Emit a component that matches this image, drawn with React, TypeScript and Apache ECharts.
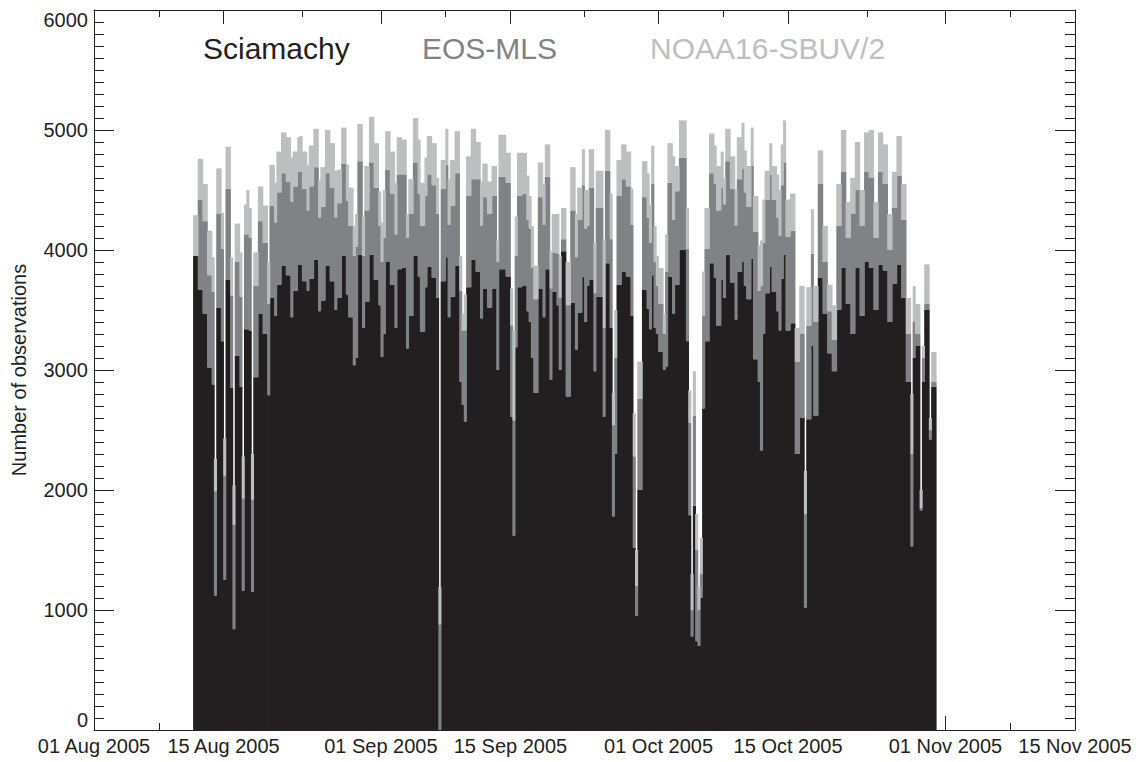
import { useEffect, useRef } from "react";
import * as echarts from "echarts";

// Observation counts per 6-hourly assimilation cycle, first cycle 11 Aug 2005 18 UTC
const FIRST_CYCLE = Date.UTC(2005, 7, 11, 18);
const CYCLE_HOURS = 6;

const sciamachy = [
  3950, 3950, 3670, 3670, 3470, 3470, 3020, 3020, 2880, 1120,
  3520, 3520, 3240, 1250, 3750, 3750, 2850, 840, 3120, 3120,
  2860, 1160, 3340, 3340, 3330, 1150, 2940, 2940, 3470, 3470,
  3300, 3300, 2790, 3600, 3600, 3450, 3710, 3710, 3870, 3870,
  3790, 3790, 3440, 3660, 3660, 3880, 3880, 3740, 3740, 3660,
  3760, 3760, 3920, 3920, 3490, 3580, 3580, 3870, 3870, 3740,
  3740, 3500, 3600, 3600, 3950, 3950, 3630, 3440, 3440, 3040,
  3100, 3960, 3960, 3350, 3570, 3570, 3960, 3960, 3750, 3750,
  3540, 3110, 3300, 3900, 3900, 3710, 3710, 3350, 3840, 3840,
  3850, 3850, 3180, 3450, 3450, 3950, 3950, 3780, 3320, 3320,
  3690, 3860, 3860, 3770, 3770, 3600, 0, 3740, 3740, 3940,
  3440, 3610, 3610, 3870, 3870, 2900, 2710, 2570, 3690, 3690,
  3920, 3920, 3820, 3820, 3430, 3680, 3680, 3520, 3520, 3680,
  3680, 3000, 3840, 3840, 3840, 3780, 3780, 2610, 1620, 3190,
  3690, 3690, 3700, 3700, 3490, 3400, 3100, 2810, 2810, 3680,
  3680, 3440, 3840, 3840, 2920, 3650, 3650, 3540, 3000, 3990,
  3990, 2780, 2780, 3560, 3560, 3170, 3480, 3480, 3780, 3400,
  3700, 3750, 3750, 2990, 3610, 3610, 3610, 2610, 3890, 3890,
  3350, 1780, 2300, 3710, 3710, 3820, 3820, 3780, 3780, 3450,
  1520, 950, 2000, 2000, 3670, 3670, 3510, 3340, 3790, 3350,
  3300, 3150, 3150, 3000, 3030, 3780, 3780, 3470, 3710, 3710,
  4000, 4000, 4000, 3240, 1790, 780, 1870, 740, 700, 1100,
  2680, 3240, 3240, 3890, 3890, 3770, 3370, 3370, 3750, 3600,
  3960, 3960, 3730, 3730, 3420, 3820, 3820, 3900, 3700, 3590,
  3590, 3930, 3090, 3090, 2900, 2330, 3300, 3640, 3640, 3860,
  3650, 3650, 3490, 3330, 3760, 3960, 3330, 3330, 3390, 3390,
  2300, 2300, 2600, 2600, 1020, 2590, 2590, 3200, 2620, 2620,
  3770, 3770, 3470, 3470, 3140, 3140, 2990, 2990, 3500, 3500,
  3850, 3850, 3550, 3550, 3300, 3300, 3850, 3850, 3450, 3450,
  3900, 3900, 3850, 3850, 3500, 3500, 3880, 3880, 3830, 3830,
  3400, 3400, 3720, 3720, 3880, 3880, 3600, 3600, 2900, 2900,
  1530, 3100, 3200, 3200, 1830, 2900, 3500, 3500, 2420, 2860, 2860,
];

const eosMls = [
  0, 0, 750, 750, 770, 770, 770, 770, 770, 870,
  780, 780, 770, 870, 760, 760, 770, 870, 780, 780,
  750, 770, 790, 790, 770, 770, 760, 760, 770, 770,
  760, 760, 760, 770, 770, 780, 770, 770, 770, 770,
  780, 780, 960, 870, 870, 770, 770, 770, 770, 670,
  770, 770, 770, 770, 780, 780, 780, 770, 770, 780,
  780, 770, 790, 790, 770, 770, 780, 760, 760, 910,
  930, 780, 780, 600, 760, 760, 770, 770, 770, 770,
  660, 790, 800, 770, 770, 760, 760, 780, 790, 790,
  780, 780, 920, 850, 850, 780, 780, 690, 880, 880,
  760, 770, 770, 770, 770, 700, 880, 770, 770, 770,
  770, 760, 760, 770, 770, 760, 620, 760, 760, 760,
  670, 670, 770, 770, 770, 760, 760, 780, 780, 770,
  770, 900, 770, 770, 770, 780, 780, 760, 960, 760,
  760, 760, 770, 770, 760, 780, 750, 780, 780, 760,
  760, 770, 770, 770, 760, 330, 330, 430, 600, 100,
  100, 760, 760, 770, 770, 770, 770, 770, 760, 780,
  500, 770, 770, 650, 740, 740, 740, 740, 770, 770,
  740, 760, 800, 740, 740, 770, 770, 750, 750, 760,
  760, 250, 760, 760, 770, 770, 760, 720, 760, 550,
  400, 400, 400, 300, 790, 780, 780, 780, 780, 780,
  770, 770, 770, 770, 770, 220, 750, 760, 300, 200,
  770, 770, 770, 750, 750, 780, 960, 960, 770, 780,
  780, 780, 780, 780, 780, 770, 770, 780, 780, 770,
  770, 770, 1060, 1060, 760, 1370, 760, 780, 780, 770,
  770, 770, 780, 790, 780, 770, 780, 780, 770, 770,
  770, 770, 700, 700, 780, 780, 780, 770, 780, 780,
  780, 780, 430, 430, 350, 350, 260, 260, 700, 700,
  800, 800, 550, 550, 1000, 1000, 650, 650, 750, 750,
  750, 750, 750, 750, 600, 600, 770, 770, 720, 720,
  600, 600, 630, 630, 740, 740, 650, 650, 400, 400,
  770, 300, 100, 100, 20, 200, 50, 50, 80, 40, 40,
];

const noaa16Sbuv2 = [
  340, 340, 340, 340, 310, 310, 370, 370, 290, 270,
  380, 380, 300, 310, 350, 350, 320, 330, 320, 320,
  370, 350, 250, 370, 250, 380, 280, 280, 290, 290,
  310, 310, 350, 340, 340, 330, 340, 340, 340, 340,
  370, 370, 370, 290, 290, 290, 300, 310, 310, 380,
  340, 340, 320, 320, 310, 330, 330, 360, 360, 370,
  370, 390, 280, 280, 300, 300, 300, 320, 320, 250,
  270, 310, 310, 330, 370, 370, 380, 380, 370, 370,
  290, 330, 400, 320, 320, 350, 350, 430, 310, 310,
  290, 290, 200, 290, 290, 370, 370, 450, 360, 360,
  320, 320, 320, 350, 350, 300, 310, 240, 240, 300,
  380, 380, 380, 350, 350, 290, 140, 300, 330, 330,
  420, 420, 310, 310, 370, 280, 280, 270, 270, 250,
  250, 180, 350, 350, 350, 250, 250, 310, 750, 330,
  360, 360, 340, 340, 370, 270, 350, 280, 280, 290,
  290, 340, 270, 270, 310, 320, 320, 330, 350, 260,
  260, 360, 360, 360, 360, 360, 270, 270, 300, 320,
  300, 320, 320, 420, 310, 310, 310, 740, 340, 340,
  380, 270, 400, 300, 300, 290, 290, 290, 290, 300,
  360, 300, 310, 310, 300, 300, 370, 320, 320, 300,
  250, 300, 300, 170, 310, 330, 330, 530, 210, 210,
  310, 310, 310, 340, 270, 300, 370, 300, 200, 300,
  370, 340, 340, 330, 330, 320, 370, 370, 300, 220,
  270, 270, 270, 270, 310, 350, 350, 380, 350, 340,
  340, 320, 300, 300, 380, 380, 360, 240, 240, 260,
  280, 280, 360, 380, 340, 350, 310, 310, 310, 310,
  280, 280, 400, 400, 360, 320, 320, 370, 300, 300,
  280, 280, 300, 300, 220, 220, 290, 290, 350, 350,
  350, 350, 300, 300, 300, 300, 400, 400, 300, 300,
  330, 330, 400, 400, 300, 300, 330, 330, 330, 330,
  300, 300, 300, 300, 330, 330, 300, 300, 300, 300,
  500, 300, 250, 250, 150, 100, 330, 330, 100, 250, 250,
];

const seriesNames = ["Sciamachy", "EOS-MLS", "NOAA16-SBUV/2"];
const seriesColors = ["#231f20", "#808285", "#bcbec0"];

const majorTickDates = [
  "2005-08-01", "2005-08-15", "2005-09-01", "2005-09-15",
  "2005-10-01", "2005-10-15", "2005-11-01", "2005-11-15",
];
const MONTHS = ["Jan", "Feb", "Mar", "Apr", "May", "Jun", "Jul", "Aug", "Sep", "Oct", "Nov", "Dec"];

const Y_MAX = 6000;
const Y_STEP = 1000;

const FONT = '"Liberation Sans", Arial, Helvetica, sans-serif';
const INK = "#231f20";

const HOUR = 3600 * 1000;
const CYCLE_MS = CYCLE_HOURS * HOUR;
const majorTicks = majorTickDates.map((d) => Date.parse(d + "T00:00:00Z"));
const minorTicks = majorTicks.slice(1).map((t, i) => (t + majorTicks[i]) / 2);
const X_MIN = majorTicks[0];
const X_MAX = majorTicks[majorTicks.length - 1];

// One category per 6-hour cycle across the whole date range of the axis
const cycleSlots = Array.from({ length: Math.round((X_MAX - X_MIN) / CYCLE_MS) }, (_, i) => X_MIN + i * CYCLE_MS);
const firstSlot = Math.round((FIRST_CYCLE - X_MIN) / CYCLE_MS);
const slotValues = (counts: number[]) =>
  cycleSlots.map((_, i) => {
    const k = i - firstSlot;
    return k >= 0 && k < counts.length ? counts[k] : null;
  });

const formatDate = (v: number) => {
  const d = new Date(v);
  return `${String(d.getUTCDate()).padStart(2, "0")} ${MONTHS[d.getUTCMonth()]} ${d.getUTCFullYear()}`;
};

const GRID = { left: 94, right: 61, top: 10, bottom: 32 };
const WIDTH = 1136;
const HEIGHT = 762;

export default function App() {
  const ref = useRef<HTMLDivElement>(null);

  useEffect(() => {
    if (!ref.current) return;
    const chart = echarts.init(ref.current, undefined, { renderer: "svg" });

    const line = { color: INK, width: 1 };
    // each bar spans its 6-hour slot and overlaps its neighbour slightly so no seams show
    const slotWidth = (WIDTH - GRID.left - GRID.right) / cycleSlots.length;
    const barWidth = slotWidth + 0.8;

    const dateAxis = (position: "top" | "bottom", ticks: number[], length: number, labels: boolean, showLine: boolean) => ({
      type: "value",
      position,
      min: X_MIN,
      max: X_MAX,
      axisLine: { show: showLine, lineStyle: line },
      axisTick: { show: true, inside: true, length, customValues: ticks, lineStyle: line },
      axisLabel: labels
        ? {
            show: true,
            customValues: ticks,
            formatter: formatDate,
            fontSize: 20,
            fontFamily: FONT,
            color: INK,
            margin: 6,
            showMinLabel: true,
            showMaxLabel: true,
          }
        : { show: false },
      splitLine: { show: false },
    });

    const countAxis = (position: "left" | "right", labels: boolean) => ({
      type: "value",
      position,
      min: 0,
      max: Y_MAX,
      interval: Y_STEP,
      name: labels ? "Number of observations" : "",
      nameLocation: "middle",
      nameGap: 65,
      nameTextStyle: { fontSize: 20, fontFamily: FONT, color: INK },
      axisLine: { show: true, lineStyle: line },
      axisTick: { show: true, inside: true, length: 20, lineStyle: line },
      minorTick: { show: true, splitNumber: 10, length: 10, lineStyle: line },
      axisLabel: labels
        ? {
            show: true,
            formatter: (v: number) => String(v),
            fontSize: 20,
            fontFamily: FONT,
            color: INK,
            margin: 6,
            verticalAlignMinLabel: "bottom",
            verticalAlignMaxLabel: "top",
          }
        : { show: false },
      splitLine: { show: false },
    });

    const values = [sciamachy, eosMls, noaa16Sbuv2];

    chart.setOption({
      animation: false,
      backgroundColor: "#ffffff",
      grid: { ...GRID, containLabel: false },
      xAxis: [
        {
          type: "category",
          data: cycleSlots,
          boundaryGap: true,
          show: false,
        },
        dateAxis("bottom", majorTicks, 14, true, true),
        dateAxis("bottom", minorTicks, 7, false, false),
        dateAxis("top", majorTicks, 14, false, true),
        dateAxis("top", minorTicks, 7, false, false),
      ],
      yAxis: [countAxis("left", true), countAxis("right", false)],
      series: seriesNames.map((name, k) => ({
        name,
        type: "bar",
        stack: "observations",
        xAxisIndex: 0,
        yAxisIndex: 0,
        barWidth,
        itemStyle: { color: seriesColors[k] },
        emphasis: { disabled: true },
        data: slotValues(values[k]),
      })),
      graphic: [
        { left: 203, text: seriesNames[0] },
        { left: 422, text: seriesNames[1] },
        { left: 650, text: seriesNames[2] },
      ].map((item, k) => ({
        type: "text",
        x: item.left,
        y: 48,
        style: {
          text: item.text,
          fill: seriesColors[k],
          fontSize: 30,
          fontFamily: FONT,
          verticalAlign: "middle",
        },
      })),
    });

    return () => chart.dispose();
  }, []);

  return (
    <div
      ref={ref}
      style={{ position: "fixed", left: 0, top: 0, width: WIDTH, height: HEIGHT, background: "#fff" }}
    />
  );
}
